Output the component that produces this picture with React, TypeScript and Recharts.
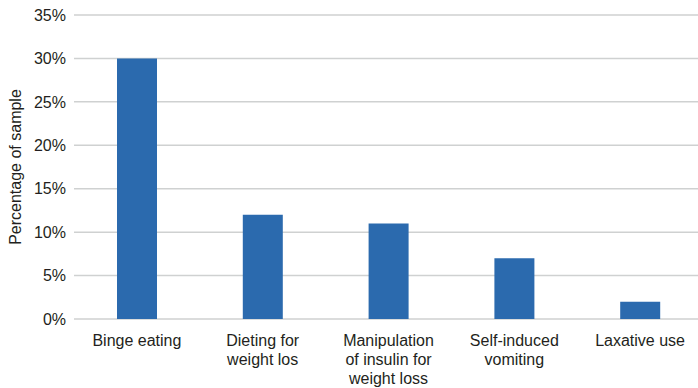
import { BarChart, Bar, XAxis, YAxis, CartesianGrid, Label } from 'recharts';

const categories = [
  'Binge eating',
  'Dieting for\nweight los',
  'Manipulation\nof insulin for\nweight loss',
  'Self-induced\nvomiting',
  'Laxative use',
];
const percentages = [30, 12, 11, 7, 2];
const yTicks = [0, 5, 10, 15, 20, 25, 30, 35];

const data = categories.map((name, i) => ({ name, value: percentages[i] }));

const FONT = '"Liberation Sans", Arial, Helvetica, sans-serif';
const TEXT = '#231f20';

const CategoryTick = (props: any) => {
  const { x, y, payload } = props;
  const lines = String(payload.value).split('\n');
  return (
    <g transform={`translate(${x},${y})`}>
      {lines.map((line, i) => (
        <text
          key={i}
          x={0}
          y={19 + i * 19}
          textAnchor="middle"
          fill={TEXT}
          fontSize={16}
          fontFamily={FONT}
        >
          {line}
        </text>
      ))}
    </g>
  );
};

export default function App() {
  return (
    <div style={{ position: 'absolute', left: 0, top: 0, width: 698, height: 388, overflow: 'hidden', background: '#fff' }}>
      <BarChart
        width={703}
        height={388}
        data={data}
        margin={{ top: 15, right: 0, bottom: 0, left: 0 }}
      >
        <CartesianGrid vertical={false} stroke="#cfd1d1" strokeWidth={1.5} />
        <XAxis
          dataKey="name"
          axisLine={false}
          tickLine={false}
          height={69}
          interval={0}
          tick={<CategoryTick />}
        />
        <YAxis
          width={74}
          domain={[0, 35]}
          ticks={yTicks}
          axisLine={false}
          tickLine={false}
          tickFormatter={(v) => `${v}%`}
          tick={{ fill: TEXT, fontSize: 16, fontFamily: FONT }}
        >
          <Label
            content={({ viewBox }: any) => {
              const cy = viewBox.y + viewBox.height / 2;
              return (
                <text
                  x={15}
                  y={cy}
                  transform={`rotate(-90, 15, ${cy})`}
                  textAnchor="middle"
                  dominantBaseline="central"
                  fill={TEXT}
                  fontSize={16}
                  fontFamily={FONT}
                >
                  Percentage of sample
                </text>
              );
            }}
          />
        </YAxis>
        <Bar dataKey="value" fill="#2b6aae" barSize={40} isAnimationActive={false} />
      </BarChart>
    </div>
  );
}
